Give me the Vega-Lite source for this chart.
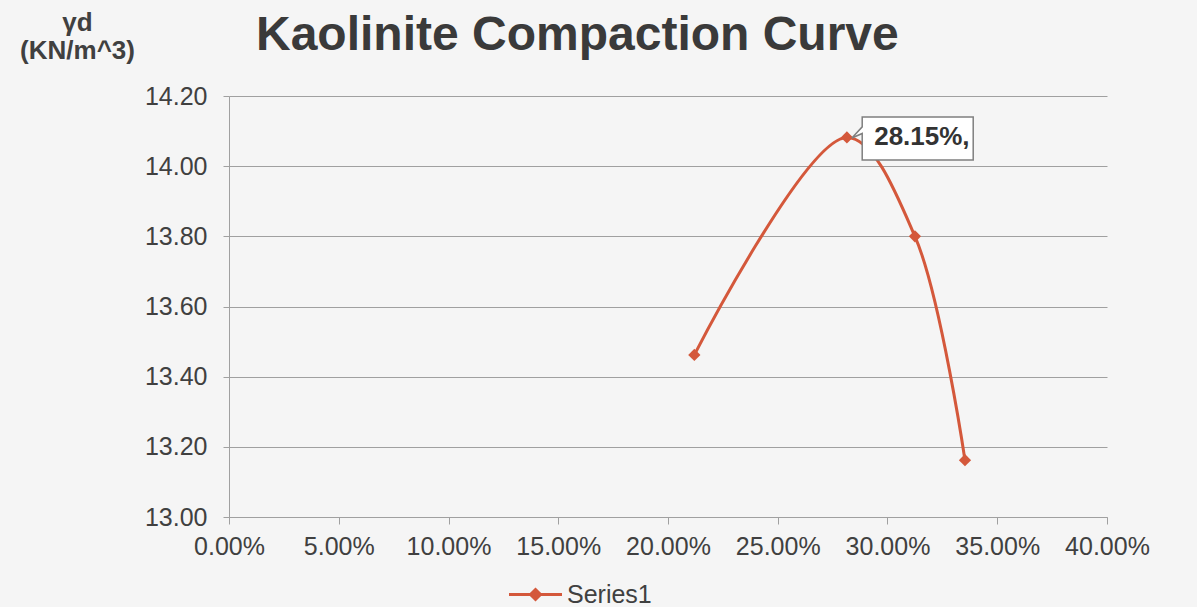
{
  "$schema": "https://vega.github.io/schema/vega-lite/v6.json",
  "autosize": {"type": "none"},
  "width": 878,
  "height": 421,
  "padding": {"left": 229, "top": 96, "right": 90, "bottom": 90},
  "background": "#f5f5f5",
  "config": {"view": {"stroke": null}},
  "title": {
    "text": "Kaolinite Compaction Curve",
    "anchor": "start",
    "frame": "group",
    "dx": 27,
    "fontSize": 48,
    "font": "Liberation Sans",
    "fontWeight": "bold",
    "color": "#3a3a3a",
    "baseline": "alphabetic",
    "offset": -89
  },
  "data": {
    "values": [
      {"w": 0.212, "gd": 13.462, "label": ""},
      {"w": 0.2815, "gd": 14.082, "label": "28.15%,"},
      {"w": 0.3125, "gd": 13.8, "label": ""},
      {"w": 0.3353, "gd": 13.162, "label": ""}
    ]
  },
  "layer": [
    {
      "mark": {
        "type": "line",
        "interpolate": "catmull-rom",
        "strokeWidth": 3,
        "point": {"shape": "diamond", "size": 150, "filled": true}
      },
      "encoding": {
        "x": {
          "field": "w",
          "type": "quantitative",
          "scale": {"domain": [0, 0.4], "nice": false},
          "axis": {
            "values": [0, 0.05, 0.1, 0.15, 0.2, 0.25, 0.3, 0.35, 0.4],
            "format": ".2%",
            "title": "ω (%)",
            "titleX": 909,
            "titleY": 406,
            "titleAlign": "center",
            "titleBaseline": "middle",
            "titleFontSize": 25,
            "titleFontWeight": "bold",
            "titleColor": "#404040",
            "titleFont": "Liberation Sans",
            "grid": false,
            "domainColor": "#a0a0a0",
            "tickColor": "#a0a0a0",
            "tickSize": 7,
            "labelFontSize": 25,
            "labelColor": "#404040",
            "labelFont": "Liberation Sans",
            "labelPadding": 10,
            "labelFlush": false,
            "labelOverlap": false
          }
        },
        "y": {
          "field": "gd",
          "type": "quantitative",
          "scale": {"domain": [13, 14.2], "nice": false, "zero": false},
          "axis": {
            "values": [13, 13.2, 13.4, 13.6, 13.8, 14, 14.2],
            "format": ".2f",
            "title": ["γd", "(KN/m^3)"],
            "titleAngle": 0,
            "titleX": -152,
            "titleY": -87,
            "titleAlign": "center",
            "titleBaseline": "top",
            "titleLineHeight": 28,
            "titleFontSize": 26,
            "titleFontWeight": "bold",
            "titleColor": "#404040",
            "titleFont": "Liberation Sans",
            "grid": true,
            "gridColor": "#a0a0a0",
            "gridWidth": 1,
            "domainColor": "#a0a0a0",
            "tickColor": "#a0a0a0",
            "tickSize": 6,
            "labelFontSize": 25,
            "labelColor": "#404040",
            "labelFont": "Liberation Sans",
            "labelPadding": 16,
            "labelFlush": false,
            "labelOverlap": false
          }
        },
        "color": {
          "datum": "Series1",
          "type": "nominal",
          "scale": {"range": ["#d4583b"]},
          "legend": {
            "orient": "none",
            "legendX": 294,
            "legendY": 486,
            "title": null,
            "symbolType": "M-2.65,0H2.65M0,-0.5L0.5,0L0,0.5L-0.5,0Z",
            "symbolSize": 400,
            "labelFontSize": 25,
            "labelColor": "#404040",
            "labelFont": "Liberation Sans",
            "labelOffset": 19,
            "padding": 0,
            "encode": {
              "symbols": {
                "update": {
                  "fill": {"value": "#d4583b"},
                  "stroke": {"value": "#d4583b"},
                  "strokeWidth": {"value": 3}
                }
              }
            }
          }
        }
      }
    },
    {
      "transform": [{"filter": "datum.label != ''"}],
      "mark": {
        "type": "point",
        "shape": "M0.276,-0.366H2.276V0.409H0.276V-0.07L0.09,0.01L0.276,-0.19Z",
        "size": 12321,
        "filled": true,
        "fill": "#ffffff",
        "stroke": "#7f7f7f",
        "strokeWidth": 1.5,
        "opacity": 1
      },
      "encoding": {
        "x": {"field": "w", "type": "quantitative"},
        "y": {"field": "gd", "type": "quantitative"}
      }
    },
    {
      "transform": [{"filter": "datum.label != ''"}],
      "mark": {
        "type": "text",
        "dx": 75,
        "align": "center",
        "baseline": "middle",
        "fontSize": 26,
        "fontWeight": "bold",
        "font": "Liberation Sans",
        "color": "#333333"
      },
      "encoding": {
        "x": {"field": "w", "type": "quantitative"},
        "y": {"field": "gd", "type": "quantitative"},
        "text": {"field": "label"}
      }
    }
  ]
}
